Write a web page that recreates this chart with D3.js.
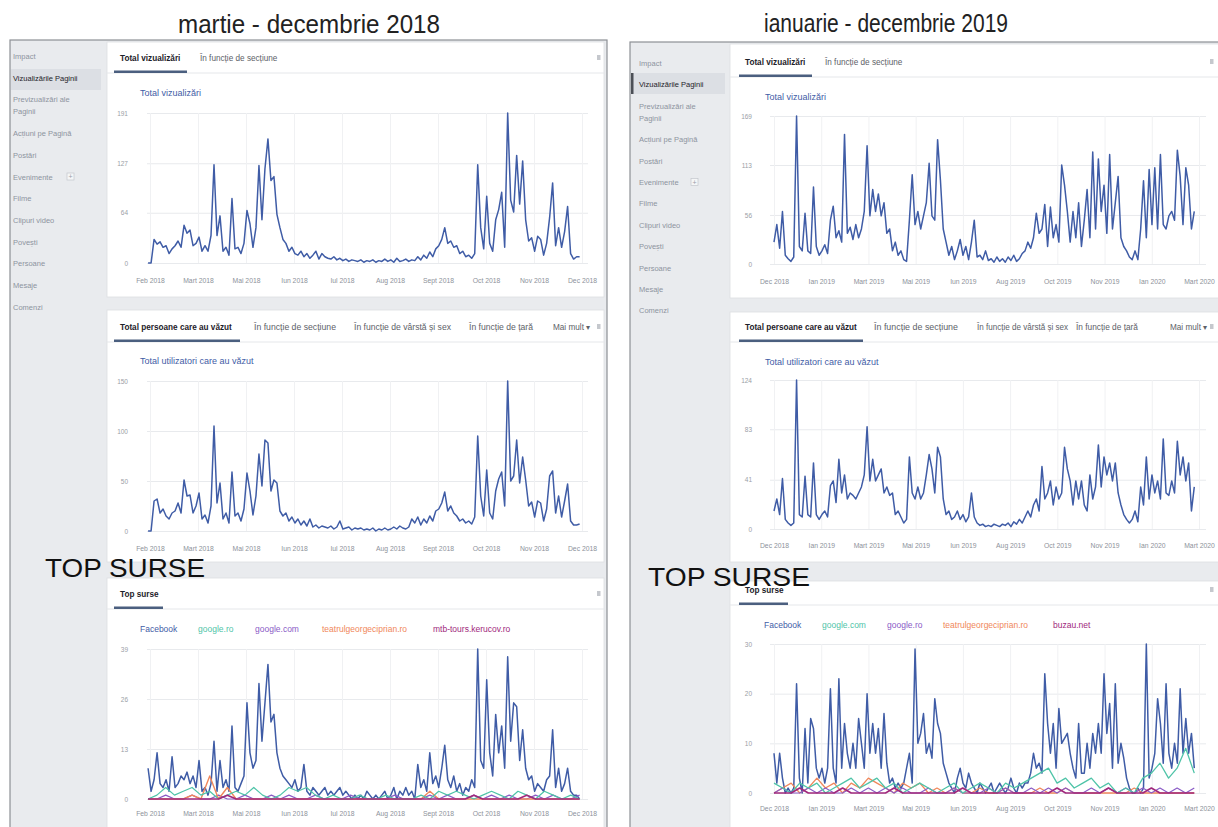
<!DOCTYPE html>
<html>
<head>
<meta charset="utf-8">
<script src="https://cdn.jsdelivr.net/npm/d3@7"></script>
<style>
  body { margin: 0; background: #fff; }
  svg { display: block; }
</style>
</head>
<body>
<svg id="chart" width="1218" height="827"></svg>
<script>
// ---- data ----
const ticks2018 = ["Feb 2018", "Mart 2018", "Mai 2018", "Iun 2018", "Iul 2018", "Aug 2018", "Sept 2018", "Oct 2018", "Nov 2018", "Dec 2018"];
const ticks2019 = ["Dec 2018", "Ian 2019", "Mart 2019", "Mai 2019", "Iun 2019", "Aug 2019", "Oct 2019", "Nov 2019", "Ian 2020", "Mart 2020"];

const yViews2018 = [0, 64, 127, 191];
const yReach2018 = [0, 50, 100, 150];
const ySources2018 = [0, 13, 26, 39];
const yViews2019 = [0, 56, 113, 169];
const yReach2019 = [0, 41, 83, 124];
const ySources2019 = [0, 10, 20, 30];

const views2018 = [0,0,30,24,27,20,22,12,18,22, 28,20,48,38,42,22,25,33,15,22, 15,35,125,35,60,15,20,10,82,18,
  20,12,25,67,50,20,45,124,55,120, 158,105,110,62,45,30,25,15,20,12, 10,15,8,12,6,10,15,5,12,8,
  6,5,8,4,6,3,5,2,4,3, 2,4,1,3,2,4,1,3,2,5, 2,4,1,6,2,3,5,2,4,3,
  8,4,10,6,14,8,18,22,30,45, 25,28,20,22,12,15,8,10,6,12, 125,45,18,85,25,15,55,68,90,20,
  191,80,65,137,75,130,55,28,32,15, 34,30,10,25,58,102,22,45,20,40, 72,12,5,8,8];

const reach2018 = [0,0,30,32,18,22,15,12,18,20, 28,18,51,35,36,18,25,38,12,16, 8,25,105,28,48,12,18,8,59,15,
  18,10,22,58,40,16,35,77,45,91, 88,40,51,48,20,15,18,10,14,8, 12,6,10,5,12,4,6,3,5,4,
  3,5,2,4,10,2,3,4,1,3, 2,3,1,2,1,3,0,2,1,3, 1,2,4,2,5,3,2,4,12,8,
  14,6,12,8,15,10,20,22,28,39, 20,25,18,15,10,12,8,10,7,14, 95,35,15,61,18,12,40,52,59,25,
  150,50,55,91,48,74,51,25,29,14, 30,28,10,22,55,60,18,35,14,30, 47,10,6,6,7];

const facebook2018 = [8,2,5,12,4,3,5,2,11,3, 4,6,5,7,4,6,3,10,2,3, 1,4,15,2,10,3,5,2,19,3,
  2,4,6,25,12,8,10,30,15,25, 35,20,22,12,8,6,5,4,3,5, 2,3,9,2,1,3,2,1,2,3,
  1,2,1,2,3,1,2,1,0,1, 0,1,0,2,1,0,1,0,1,2, 0,1,3,0,2,1,3,1,2,0,
  9,3,5,2,12,4,6,3,8,14, 5,3,6,2,4,1,3,2,5,3, 39,10,8,31,12,6,22,12,19,8,
  37,15,25,24,10,18,8,5,6,2, 4,3,2,5,6,18,3,8,2,4, 8,2,1,1,0];
const googleRo2018 = [0,1,3,1,2,3,1,2,0,1, 2,1,3,1,0,1,3,2,3,1, 0,1,0,0,1,0,0,1,0,0, 0,1,0,2,1,2,1,0,1,2, 1,0,2,1,0,2,1,0,1,0];
const googleCom2018 = [0,0,1,0,0,1,0,0,1,0, 0,1,0,0,1,0,1,0,0,1, 0,0,0,1,0,0,0,0,1,0, 0,0,1,0,1,0,0,1,0,1, 0,1,0,0,1,0,1,0,0,1];
const teatrul2018 = [0,0,0,0,0,1,0,6,0,3, 0,0,0,0,0,0,0,0,0,0, 0,0,0,0,0,0,0,0,0,0, 0,0,2,0,0,0,0,0,0,0, 0,0,0,0,0,0,0,0,0,0];
const mtb2018 = [0,0,0,0,0,0,0,0,0,1, 0,0,0,0,0,0,0,0,0,0, 0,0,0,0,0,0,0,0,0,0, 0,0,0,0,0,0,0,1,0,0, 0,0,0,1,0,0,0,0,0,0];

const views2019 = [25,45,18,60,10,6,3,8,169,20, 15,58,15,12,88,20,10,15,22,12, 50,66,30,38,25,148,35,42,28,45,
  30,40,60,135,55,85,60,80,55,70, 35,40,15,25,10,15,5,3,50,102, 45,60,40,55,70,115,55,50,142,96,
  40,25,10,20,5,15,28,10,20,5, 25,50,8,10,5,15,4,6,2,8, 3,6,2,8,4,10,3,6,12,15,
  25,18,30,58,35,40,68,20,65,30, 45,25,113,90,60,25,60,30,70,20, 50,85,30,128,40,120,60,90,35,125,
  40,70,100,30,20,15,8,5,15,5, 40,95,30,108,45,110,40,125,45,40, 55,60,50,130,100,45,110,90,40,60];

const reach2019 = [15,25,12,42,8,5,3,5,124,12, 10,44,12,10,55,12,8,12,15,10, 36,40,22,58,30,45,25,30,28,25,
  30,35,45,85,40,58,40,45,50,30, 35,28,30,12,15,10,5,8,60,30, 25,35,25,30,45,62,50,30,68,60,
  25,12,15,8,10,15,8,12,6,10, 30,10,5,3,4,2,3,2,4,3, 2,4,3,5,2,6,4,8,5,10,
  15,10,20,25,15,52,25,30,40,20, 35,25,30,68,50,40,20,40,25,40, 20,15,45,25,35,70,35,60,45,55,
  40,55,30,20,12,8,5,8,15,6, 35,20,60,25,45,30,40,25,75,30, 28,40,30,73,45,60,40,55,15,35];

const facebook2019 = [8,2,8,3,0,1,0,1,22,3, 0,13,2,15,13,5,3,5,2,5, 21,5,2,23,5,14,8,5,10,5,
  15,10,5,20,8,14,8,13,5,16, 6,2,3,1,2,1,2,5,8,2, 29,10,12,16,8,10,7,19,14,12,
  6,4,2,1,0,3,5,2,1,4, 2,1,0,2,1,0,1,2,0,1, 2,1,0,1,3,1,0,2,1,2,
  2,4,8,5,6,4,24,14,8,14, 5,17,10,11,12,8,5,3,14,4, 4,10,5,12,8,14,8,24,12,18,
  5,22,6,10,7,3,1,0,0,1, 0,1,30,3,5,8,19,14,6,22, 8,5,10,6,21,8,15,8,12,5];
const googleCom2019 = [2,1,0,2,1,2,0,1,2,3, 1,2,3,1,2,0,1,2,1,0, 1,2,0,1,2,1,0,2,1,2, 3,4,5,2,3,1,2,3,1,2, 0,1,0,3,4,6,3,5,9,4];
const googleRo2019 = [0,1,0,0,1,0,1,0,0,1, 0,1,0,1,0,1,0,0,1,0, 0,1,0,0,0,1,0,1,0,0, 1,0,1,0,1,0,0,1,0,1, 0,1,0,1,0,1,0,1,0,1];
const teatrul2019 = [0,1,2,0,1,3,1,2,0,2, 1,3,2,1,0,2,1,2,0,1, 0,1,0,0,1,0,0,1,0,0, 0,1,0,0,1,0,0,0,0,0, 0,0,1,0,0,0,0,0,0,0];
const buzau2019 = [0,0,0,1,0,0,0,0,1,0, 0,0,0,0,1,0,0,0,0,0, 0,0,1,0,0,0,0,0,0,0, 0,0,0,1,0,0,0,0,0,1, 0,0,0,0,1,0,0,0,0,0];

const menuItems = ["Impact", "Vizualizările Paginii", "Previzualizări ale|Paginii", "Acțiuni pe Pagină", "Postări",
  "Evenimente", "Filme", "Clipuri video", "Povești", "Persoane", "Mesaje", "Comenzi"];

// ---- drawing ----
const FONT = '"Liberation Sans", Arial, Helvetica, sans-serif';
const BLUE = "#3f5ca6";
const svg = d3.select("#chart").attr("font-family", FONT);

function txt(g, x, y, s, o = {}) {
  const t = g.append("text").attr("x", x).attr("y", y).text(s)
    .attr("font-size", o.size || 8)
    .attr("fill", o.color || "#4b4f56")
    .attr("text-anchor", o.anchor || "start");
  if (o.bold) t.attr("font-weight", "bold");
  if (o.len) t.attr("textLength", o.len).attr("lengthAdjust", "spacingAndGlyphs");
  return t;
}

function drawFrame(f) {
  const g = svg.append("g");
  g.append("rect").attr("x", f.x0).attr("y", f.top).attr("width", f.x1 - f.x0).attr("height", 830 - f.top)
    .attr("fill", "#e9ebee").attr("stroke", "#8d9095").attr("stroke-width", 1.2);
  // selected menu row
  g.append("rect").attr("x", f.x0 + 1).attr("y", f.selY - 10).attr("width", f.sideW).attr("height", 21).attr("fill", "#dcdfe4");
  if (f.selBar) g.append("rect").attr("x", f.x0 + 1).attr("y", f.selY - 10).attr("width", 2.5).attr("height", 21).attr("fill", "#4b4f56");
  let y = f.menuY;
  menuItems.forEach((m, i) => {
    const lines = m.split("|");
    lines.forEach((l, j) => {
      txt(g, f.x0 + f.menuPad, y + j * 12 + 3, l, { size: 7.5, color: i === 1 ? "#1d2129" : "#8d949e" });
    });
    if (m === "Evenimente") {
      g.append("rect").attr("x", f.x0 + f.plusX).attr("y", y - 3.5).attr("width", 7).attr("height", 7)
        .attr("fill", "#f5f6f7").attr("stroke", "#c4c7cc").attr("stroke-width", 0.7);
      txt(g, f.x0 + f.plusX + 3.5, y + 2.5, "+", { size: 7, color: "#9a9ea6", anchor: "middle" });
    }
    y += f.menuStep + (lines.length - 1) * 12;
  });
}

function drawPanel(p) {
  const g = svg.append("g");
  g.append("rect").attr("x", p.x0).attr("y", p.y0).attr("width", p.x1 - p.x0).attr("height", p.y1 - p.y0)
    .attr("fill", "#fff").attr("stroke", "#dddfe2").attr("stroke-width", 0.8);
  // tabs: [label, x, optional squeezed width]
  p.tabs.forEach((t, i) => txt(g, t[1], p.tabY, t[0],
    { size: 8.2, bold: i === 0, color: i === 0 ? "#1d2129" : "#5d6168", len: t[2] }));
  g.append("line").attr("x1", p.x0).attr("x2", p.x1).attr("y1", p.tabY + 12).attr("y2", p.tabY + 12).attr("stroke", "#e5e7ea");
  g.append("rect").attr("x", p.ul[0]).attr("y", p.tabY + 9.5).attr("width", p.ul[1] - p.ul[0]).attr("height", 2.5).attr("fill", "#4b5f7f");
  g.append("rect").attr("x", p.iconX).attr("y", p.tabY - 6).attr("width", 3.5).attr("height", 5).attr("fill", "#c5c8cd");
}

function drawChart(c) {
  const g = svg.append("g");
  const x = d3.scaleLinear().domain([0, c.ticks.length - 1]).range([c.xl, c.xr]);
  const y = d3.scaleLinear().domain([0, c.yTicks[c.yTicks.length - 1]]).range([c.y0, c.yTop]);

  const ya = g.append("g").attr("transform", `translate(${c.gx0},0)`)
    .call(d3.axisLeft(y).tickValues(c.yTicks).tickSize(-(c.gx1 - c.gx0)).tickPadding(c.gx0 - c.labelRight));
  ya.attr("font-family", FONT).attr("font-size", 6.5);
  ya.select(".domain").remove();
  ya.selectAll("line").attr("stroke", "#e8eaed");
  ya.selectAll("text").attr("fill", "#9a9ea6");

  const xa = g.append("g").attr("transform", `translate(0,${c.y0})`)
    .call(d3.axisBottom(x).tickValues(d3.range(c.ticks.length)).tickFormat(i => c.ticks[i])
      .tickSize(-(c.y0 - c.yTop)).tickPadding(c.xPad));
  xa.attr("font-family", FONT).attr("font-size", 6.8);
  xa.select(".domain").remove();
  xa.selectAll("line").attr("stroke", "#f0f1f3");
  xa.selectAll("text").attr("fill", "#8d929a");

  if (c.title) txt(g, c.titleX, c.titleY, c.title, { size: 9, color: BLUE });
  if (c.legend) c.legend.forEach(l => txt(g, l.x, c.titleY, l.name, { size: 8.5, color: l.color }));

  c.series.forEach(s => {
    const n = s.values.length;
    const line = d3.line()
      .x((d, i) => x(c.span[0] + i * (c.span[1] - c.span[0]) / (n - 1)))
      .y(d => y(d));
    g.append("path").datum(s.values).attr("d", line)
      .attr("fill", "none").attr("stroke", s.color).attr("stroke-width", s.w || 1.5)
      .attr("stroke-linejoin", "round");
  });
}

// ---- headings ----
txt(svg, 309, 33, "martie - decembrie 2018", { size: 25, color: "#222", anchor: "middle", len: 262 });
txt(svg, 886, 32, "ianuarie - decembrie 2019", { size: 25, color: "#222", anchor: "middle", len: 244 });

// ---- screenshot frames with side menus ----
drawFrame({ x0: 10, x1: 607, top: 40, sideW: 90, selY: 79, selBar: false, menuY: 56, menuStep: 21.7, menuPad: 3, plusX: 57 });
drawFrame({ x0: 630, x1: 1222, top: 42, sideW: 94, selY: 83, selBar: true, menuY: 63, menuStep: 21.4, menuPad: 9, plusX: 61 });

const C = { teal: "#4fc4a8", purple: "#8a5bc6", orange: "#f0875b", magenta: "#a0287c" };

// ---- left screenshot (2018) ----
drawPanel({ x0: 107, x1: 604, y0: 42, y1: 297, tabY: 61, ul: [114, 187], iconX: 597,
  tabs: [["Total vizualizări", 120], ["În funcție de secțiune", 200]] });
drawChart({ ticks: ticks2018, yTicks: yViews2018, xl: 150, xr: 582, gx0: 147, gx1: 588, labelRight: 128,
  y0: 263, yTop: 113, xPad: 15, span: [-0.04, 8.95], title: "Total vizualizări", titleX: 140, titleY: 96,
  series: [{ values: views2018, color: BLUE }] });

drawPanel({ x0: 107, x1: 604, y0: 310, y1: 562, tabY: 330, ul: [114, 240], iconX: 597,
  tabs: [["Total persoane care au văzut", 120], ["În funcție de secțiune", 254, 82], ["În funcție de vârstă și sex", 354, 97],
    ["În funcție de țară", 469, 64], ["Mai mult ▾", 553]] });
drawChart({ ticks: ticks2018, yTicks: yReach2018, xl: 150, xr: 582, gx0: 147, gx1: 588, labelRight: 128,
  y0: 531, yTop: 381, xPad: 15, span: [-0.04, 8.95], title: "Total utilizatori care au văzut", titleX: 140, titleY: 364,
  series: [{ values: reach2018, color: BLUE }] });

drawPanel({ x0: 107, x1: 604, y0: 578, y1: 840, tabY: 597, ul: [114, 163], iconX: 597,
  tabs: [["Top surse", 120]] });
drawChart({ ticks: ticks2018, yTicks: ySources2018, xl: 150, xr: 582, gx0: 147, gx1: 588, labelRight: 128,
  y0: 799, yTop: 649, xPad: 12, span: [-0.04, 8.95], titleY: 632,
  legend: [{ name: "Facebook", x: 140, color: BLUE }, { name: "google.ro", x: 198, color: C.teal },
    { name: "google.com", x: 255, color: C.purple }, { name: "teatrulgeorgeciprian.ro", x: 322, color: C.orange },
    { name: "mtb-tours.kerucov.ro", x: 433, color: C.magenta }],
  series: [{ values: facebook2018, color: BLUE }, { values: googleCom2018, color: C.purple, w: 1.2 },
    { values: teatrul2018, color: C.orange, w: 1.4 }, { values: googleRo2018, color: C.teal, w: 1.2 },
    { values: mtb2018, color: C.magenta, w: 1.6 }] });

// ---- right screenshot (2019) ----
drawPanel({ x0: 730, x1: 1222, y0: 44, y1: 298, tabY: 65, ul: [739, 812], iconX: 1210,
  tabs: [["Total vizualizări", 745], ["În funcție de secțiune", 825]] });
drawChart({ ticks: ticks2019, yTicks: yViews2019, xl: 774, xr: 1199, gx0: 770, gx1: 1206, labelRight: 752,
  y0: 264, yTop: 116, xPad: 15, span: [0.0, 8.9], title: "Total vizualizări", titleX: 765, titleY: 100,
  series: [{ values: views2019, color: BLUE }] });

drawPanel({ x0: 730, x1: 1222, y0: 312, y1: 562, tabY: 330, ul: [739, 863], iconX: 1210,
  tabs: [["Total persoane care au văzut", 745], ["În funcție de secțiune", 874, 84], ["În funcție de vârstă și sex", 977, 91],
    ["În funcție de țară", 1076, 62], ["Mai mult ▾", 1170]] });
drawChart({ ticks: ticks2019, yTicks: yReach2019, xl: 774, xr: 1199, gx0: 770, gx1: 1206, labelRight: 752,
  y0: 529, yTop: 380, xPad: 14, span: [0.0, 8.9], title: "Total utilizatori care au văzut", titleX: 765, titleY: 365,
  series: [{ values: reach2019, color: BLUE }] });

drawPanel({ x0: 730, x1: 1222, y0: 581, y1: 840, tabY: 593, ul: [739, 788], iconX: 1210,
  tabs: [["Top surse", 745]] });
drawChart({ ticks: ticks2019, yTicks: ySources2019, xl: 774, xr: 1199, gx0: 770, gx1: 1206, labelRight: 752,
  y0: 793, yTop: 644, xPad: 13, span: [0.0, 8.9], titleY: 628,
  legend: [{ name: "Facebook", x: 764, color: BLUE }, { name: "google.com", x: 822, color: C.teal },
    { name: "google.ro", x: 887, color: C.purple }, { name: "teatrulgeorgeciprian.ro", x: 943, color: C.orange },
    { name: "buzau.net", x: 1053, color: C.magenta }],
  series: [{ values: facebook2019, color: BLUE }, { values: teatrul2019, color: C.orange, w: 1.3 },
    { values: googleRo2019, color: C.purple, w: 1.2 }, { values: googleCom2019, color: C.teal, w: 1.3 },
    { values: buzau2019, color: C.magenta, w: 1.6 }] });

// ---- overlay captions (they sit over the screenshots, as in the original) ----
txt(svg, 45, 577, "TOP  SURSE", { size: 25, color: "#111", len: 160 });
txt(svg, 648, 586, "TOP  SURSE", { size: 26, color: "#111", len: 162 });
</script>
</body>
</html>
